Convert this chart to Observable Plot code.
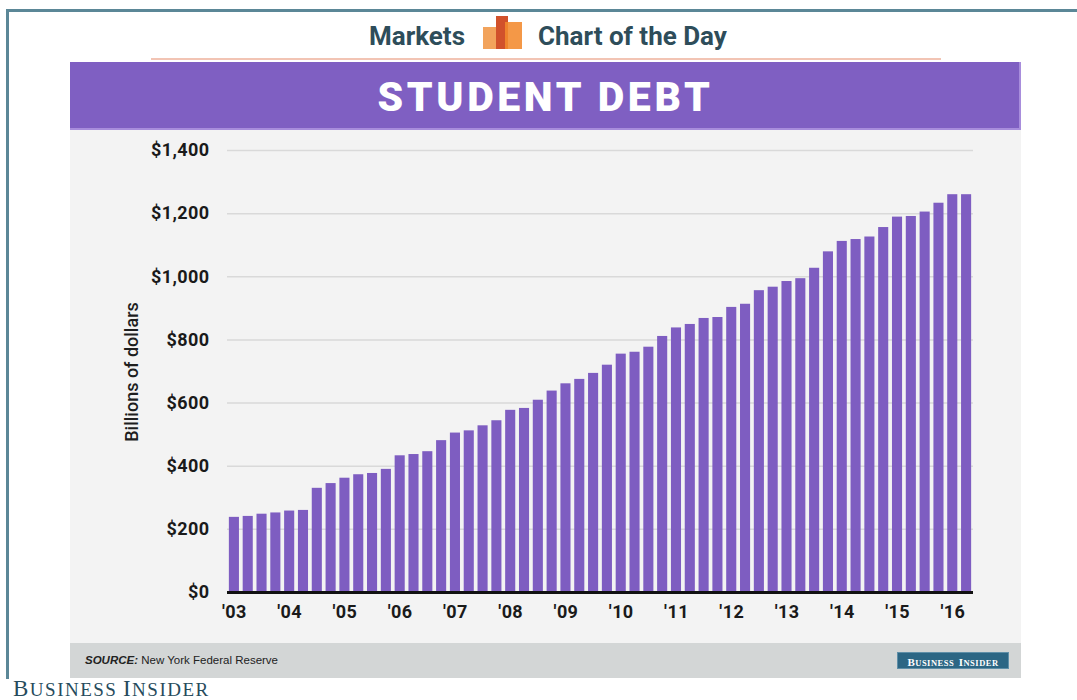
<!DOCTYPE html>
<html>
<head>
<meta charset="utf-8">
<script src="https://cdn.jsdelivr.net/npm/d3@7"></script>
<script src="https://cdn.jsdelivr.net/npm/@observablehq/plot@0.6"></script>
<style>
  html, body { margin: 0; padding: 0; background: #fff; }
  #page { position: relative; width: 1077px; height: 700px; overflow: hidden; background: #fff; font-family: Roboto, "Liberation Sans", sans-serif; }
  .abs { position: absolute; }
  #borderTop { left: 6px; top: 9px; width: 1071px; height: 3px; background: #5b8797; }
  #borderLeft { left: 6px; top: 9px; width: 3px; height: 670px; background: #5b8797; }
  .hdr { font-family: Roboto, sans-serif; font-weight: 700; font-size: 26px; color: #2e4d5a; line-height: 26px; white-space: nowrap; }
  #sep { left: 151px; top: 58px; width: 790px; height: 2px; background: #f2c4b4; }
  #banner { left: 70px; top: 62px; width: 951px; height: 68px; background: #7f5fc2; box-shadow: inset -2px -2px 0 #a88ddc; }
  #title { left: 0; top: 1px; width: 951px; height: 68px; line-height: 68px; text-align: center; color: #fff; font-family: Roboto, sans-serif; font-weight: 900; font-size: 41px; letter-spacing: 3.6px; }
  #panel { left: 70px; top: 130px; width: 951px; height: 513px; background: #f3f3f3; }
  #ylabel { left: 61px; top: 242px; width: 0; height: 0; }
  #ylabel span { position: absolute; transform: translate(-50%, -50%) rotate(-90deg); white-space: nowrap; font-family: Roboto, sans-serif; font-size: 18px; font-weight: 500; color: #1e1e1e; }
  #footer { left: 70px; top: 643px; width: 951px; height: 35px; background: #d3d6d6; }
  #source { left: 15px; top: 11px; font-family: "Liberation Sans", Arial, sans-serif; font-size: 11.5px; color: #222; white-space: nowrap; }
  #badge { left: 828px; top: 10px; width: 110px; height: 15px; background: #2c6684; color: #fff; font-family: "Liberation Serif", serif; font-weight: 700; line-height: 15px; text-align: center; letter-spacing: 0.5px; box-shadow: 0 0 0 1px #5f8fa8; white-space: nowrap; }
  #badge .c { font-size: 11px; }
  #badge .s { font-size: 8.5px; }
  #biBottom { left: 13px; top: 679px; height: 20px; font-family: "Liberation Serif", serif; line-height: 20px; color: #264b5c; letter-spacing: 1.5px; white-space: nowrap; }
  #biBottom .c { font-size: 23px; }
  #biBottom .s { font-size: 19px; }
</style>
</head>
<body>
<div id="page">
  <div id="borderTop" class="abs"></div>
  <div id="borderLeft" class="abs"></div>

  <div class="abs hdr" style="left:369px; top:23px;">Markets</div>
  <div class="abs" style="left:483px; top:27px; width:14px; height:22px; background:#f2a35c;"></div>
  <div class="abs" style="left:496px; top:16px; width:12px; height:33px; background:#d1512b;"></div>
  <div class="abs" style="left:505px; top:22px; width:17px; height:27px; background:#f28a2e; opacity:0.88;"></div>
  <div class="abs hdr" style="left:538px; top:23px;">Chart of the Day</div>
  <div id="sep" class="abs"></div>

  <div id="banner" class="abs"><div id="title" class="abs">STUDENT DEBT</div></div>

  <div id="panel" class="abs">
    <div id="chart" class="abs" style="left:0; top:0;"></div>
    <div id="ylabel" class="abs"><span>Billions of dollars</span></div>
  </div>

  <div id="footer" class="abs">
    <div id="source" class="abs"><b><i>SOURCE:</i></b> New York Federal Reserve</div>
    <div id="badge" class="abs"><span class="c">B</span><span class="s">USINESS</span> <span class="c">I</span><span class="s">NSIDER</span></div>
  </div>

  <div id="biBottom" class="abs"><span class="c">B</span><span class="s">USINESS</span> <span class="c">I</span><span class="s">NSIDER</span></div>
</div>

<script>
// Quarterly categories, 2003 Q1 – 2016 Q2
const quarters = [
  "2003 Q1","2003 Q2","2003 Q3","2003 Q4",
  "2004 Q1","2004 Q2","2004 Q3","2004 Q4",
  "2005 Q1","2005 Q2","2005 Q3","2005 Q4",
  "2006 Q1","2006 Q2","2006 Q3","2006 Q4",
  "2007 Q1","2007 Q2","2007 Q3","2007 Q4",
  "2008 Q1","2008 Q2","2008 Q3","2008 Q4",
  "2009 Q1","2009 Q2","2009 Q3","2009 Q4",
  "2010 Q1","2010 Q2","2010 Q3","2010 Q4",
  "2011 Q1","2011 Q2","2011 Q3","2011 Q4",
  "2012 Q1","2012 Q2","2012 Q3","2012 Q4",
  "2013 Q1","2013 Q2","2013 Q3","2013 Q4",
  "2014 Q1","2014 Q2","2014 Q3","2014 Q4",
  "2015 Q1","2015 Q2","2015 Q3","2015 Q4",
  "2016 Q1","2016 Q2"
];

// Student debt, billions of dollars
const debt = [
  238, 241, 248, 252,
  258, 260, 330, 345,
  362, 373, 377, 390,
  433, 437, 446, 481,
  505, 512, 528, 544,
  577, 583, 609, 638,
  661, 675, 694, 720,
  755, 761, 777, 811,
  838, 849, 868, 871,
  903, 913, 956, 967,
  985, 994, 1027, 1079,
  1112, 1118, 1126, 1156,
  1189, 1191, 1205, 1233,
  1260, 1260
];

// X tick positions and labels
const xTickQuarters = ["2003 Q1","2004 Q1","2005 Q1","2006 Q1","2007 Q1","2008 Q1","2009 Q1","2010 Q1","2011 Q1","2012 Q1","2013 Q1","2014 Q1","2015 Q1","2016 Q1"];
const xTickLabels = ["'03","'04","'05","'06","'07","'08","'09","'10","'11","'12","'13","'14","'15","'16"];

// Y ticks
const yTicks = [0, 200, 400, 600, 800, 1000, 1200, 1400];

const data = quarters.map((q, i) => ({quarter: q, value: debt[i]}));

const chart = Plot.plot({
  width: 951,
  height: 513,
  marginLeft: 157,
  marginRight: 48,
  marginTop: 20,
  marginBottom: 51,
  style: {background: "transparent", fontFamily: "Roboto, sans-serif", color: "#1a1a1a", overflow: "visible", letterSpacing: "0.4px"},
  x: {type: "band", domain: quarters, paddingInner: 0.27, paddingOuter: 0.135, label: null},
  y: {domain: [0, 1400], label: null},
  marks: [
    Plot.gridY(yTicks, {stroke: "#d9d9d9", strokeOpacity: 1, strokeWidth: 1.5}),
    Plot.barY(data, {x: "quarter", y: "value", fill: "#7e5dc1"}),
    Plot.ruleY([0], {stroke: "#111", strokeWidth: 3}),
    Plot.axisY(yTicks, {
      tickSize: 0, tickPadding: 18,
      tickFormat: d => "$" + d3.format(",")(d),
      fontSize: 18, fontWeight: "bold", label: null
    }),
    Plot.axisX(xTickQuarters, {
      tickSize: 0, tickPadding: 13,
      tickFormat: d => xTickLabels[xTickQuarters.indexOf(d)],
      fontSize: 18, fontWeight: "bold", label: null
    })
  ]
});
document.getElementById("chart").appendChild(chart);
</script>
</body>
</html>
